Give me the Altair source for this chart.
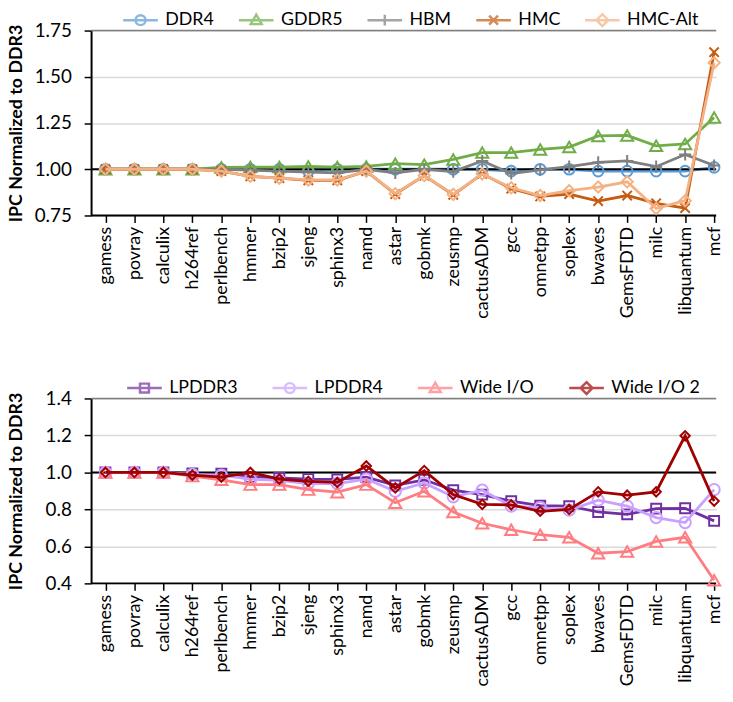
import altair as alt
import pandas as pd

benchmarks = ["gamess", "povray", "calculix", "h264ref", "perlbench", "hmmer", "bzip2",
              "sjeng", "sphinx3", "namd", "astar", "gobmk", "zeusmp", "cactusADM", "gcc",
              "omnetpp", "soplex", "bwaves", "GemsFDTD", "milc", "libquantum", "mcf"]

# ---- top panel series ----
top_names = ["DDR4", "GDDR5", "HBM", "HMC", "HMC-Alt"]
ddr4 = [1.0, 1.0, 1.0, 1.0, 1.0, 1.0, 1.0, 0.99, 1.0, 1.0, 1.0, 1.0, 1.0, 1.0, 0.99, 1.0,
        1.0, 0.99, 0.99, 0.99, 0.99, 1.01]
gddr5 = [1.0, 1.0, 1.0, 1.0, 1.01, 1.012, 1.012, 1.015, 1.012, 1.015, 1.03, 1.025, 1.053,
         1.09, 1.09, 1.107, 1.12, 1.18, 1.183, 1.127, 1.137, 1.28]
hbm = [1.0, 1.0, 1.0, 1.0, 1.0, 0.995, 0.99, 0.985, 0.98, 1.0, 0.98, 1.0, 0.987, 1.045,
       0.977, 0.996, 1.014, 1.037, 1.045, 1.014, 1.08, 1.02]
hmc = [1.0, 1.0, 1.0, 1.0, 0.99, 0.962, 0.952, 0.94, 0.94, 0.99, 0.866, 0.966, 0.862, 0.975,
       0.895, 0.853, 0.866, 0.828, 0.858, 0.816, 0.79, 1.633]
hmc_alt = [1.0, 1.0, 1.0, 1.0, 0.99, 0.962, 0.952, 0.942, 0.942, 0.99, 0.868, 0.966, 0.864,
           0.975, 0.9, 0.858, 0.884, 0.904, 0.932, 0.788, 0.83, 1.576]

# ---- bottom panel series ----
bot_names = ["LPDDR3", "LPDDR4", "Wide I/O", "Wide I/O 2"]
lpddr3 = [1.0, 1.0, 1.0, 0.995, 0.993, 0.975, 0.97, 0.964, 0.962, 0.975, 0.93, 0.96, 0.904,
          0.88, 0.845, 0.82, 0.818, 0.786, 0.773, 0.804, 0.806, 0.738]
lpddr4 = [1.0, 1.0, 1.0, 0.99, 0.985, 0.964, 0.957, 0.94, 0.94, 0.964, 0.898, 0.943, 0.868,
          0.904, 0.818, 0.81, 0.796, 0.85, 0.818, 0.756, 0.729, 0.907]
wide_io = [1.0, 1.0, 1.0, 0.98, 0.96, 0.934, 0.934, 0.907, 0.893, 0.934, 0.836, 0.898, 0.786,
           0.725, 0.69, 0.663, 0.649, 0.563, 0.572, 0.627, 0.649, 0.417]
wide_io2 = [1.0, 1.0, 1.0, 0.985, 0.975, 1.0, 0.964, 0.952, 0.946, 1.035, 0.916, 1.01, 0.88,
            0.827, 0.825, 0.79, 0.8, 0.895, 0.877, 0.895, 1.198, 0.845]

baseline = 1.0  # DDR3
top_ticks = [0.75, 1.0, 1.25, 1.5, 1.75]
bot_ticks = [0.4, 0.6, 0.8, 1.0, 1.2, 1.4]

top_colors = ["#5B9BD5", "#70AD47", "#7F7F7F", "#C55A11", "#F4B183"]
bot_colors = ["#7030A0", "#C9A0FF", "#FF7C80", "#A00000"]

PLUS = "M-1,0L1,0M0,-1L0,1"
XMARK = "M-1,-1L1,1M-1,1L1,-1"
top_shapes = ["circle", "triangle-up", PLUS, XMARK, "diamond"]
top_sizes = [115, 150, 150, 90, 130]
bot_shapes = ["square", "circle", "triangle-up", "diamond"]
bot_sizes = [100, 130, 150, 90]

LEG = {
    "circle": "M-1.75,0L1.75,0M-0.5,0A0.5,0.5 0 1,0 0.5,0A0.5,0.5 0 1,0 -0.5,0",
    "triangle": "M-1.75,0L1.75,0M0,-0.55L0.55,0.4L-0.55,0.4Z",
    "plus": "M-1.75,0L1.75,0M0,-0.55L0,0.55",
    "x": "M-1.75,0L1.75,0M-0.45,-0.45L0.45,0.45M-0.45,0.45L0.45,-0.45",
    "diamond": "M-1.75,0L1.75,0M0,-0.6L0.6,0L0,0.6L-0.6,0Z",
    "square": "M-1.75,0L1.75,0M-0.45,-0.45H0.45V0.45H-0.45Z",
}
top_leg = [LEG["circle"], LEG["triangle"], LEG["plus"], LEG["x"], LEG["diamond"]]
bot_leg = [LEG["square"], LEG["circle"], LEG["triangle"], LEG["diamond"]]

FONT = "Lato"
W, H = 632, 187
# category slot geometry: first point 14.5px in, last point at 630px
STEP = (630 - 14.5) / (len(benchmarks) - 1)
X_DOMAIN = [-14.5 / STEP, len(benchmarks) - 1 + (W - 630) / STEP]
LABEL_EXPR = "[" + ",".join("'" + b + "'" for b in benchmarks) + "][datum.value]"


def panel(names, series, colors, shapes, sizes, leg_paths, ticks, fmt, leg_x, col_pad):
    rows = []
    for name, vals in zip(names, series):
        for i, (b, v) in enumerate(zip(benchmarks, vals)):
            rows.append({"bench": b, "series": name, "value": v, "idx": i})
    df = pd.DataFrame(rows)

    x = alt.X("idx:Q",
              scale=alt.Scale(domain=X_DOMAIN, nice=False, zero=False),
              axis=alt.Axis(title=None, values=list(range(len(benchmarks))),
                            labelExpr=LABEL_EXPR, labelAngle=270, labelFont=FONT,
                            labelFontSize=18, labelColor="black", labelPadding=4,
                            labelFlush=False, tickSize=7, tickColor="black",
                            tickWidth=1.5, domain=False, grid=False, labelOverlap=False,
                            labelBound=False))
    y = alt.Y("value:Q", scale=alt.Scale(domain=[ticks[0], ticks[-1]], nice=False, zero=False),
              axis=alt.Axis(values=ticks, format=fmt, title="IPC Normalized to DDR3",
                            titleFont=FONT, titleFontSize=18, titleFontWeight="bold",
                            titleColor="black", titlePadding=2, labelFont=FONT,
                            labelFontSize=19, labelColor="black", labelPadding=13,
                            tickSize=7, tickColor="black", tickWidth=1.5,
                            domainColor="black", domainWidth=2, grid=True,
                            gridColor="#D9D9D9", gridWidth=1.5, labelOverlap=False,
                            minExtent=64, maxExtent=64))

    base = alt.Chart(df)
    layers = []
    edge = pd.DataFrame({"value": [ticks[-1]]})
    bottom = pd.DataFrame({"value": [ticks[0]]})
    ref = pd.DataFrame({"value": [baseline]})
    layers.append(alt.Chart(edge).mark_rule(color="#7F7F7F", strokeWidth=1.5).encode(y=y))
    layers.append(alt.Chart(bottom).mark_rule(color="black", strokeWidth=2).encode(y=y))

    for name, c, s, sz in zip(names, colors, shapes, sizes):
        sub = base.transform_filter(alt.datum.series == name)
        layers.append(sub.mark_line(color=c, strokeWidth=2.8).encode(
            x=x, y=y, order=alt.Order("idx:Q")))
        if name == names[0]:
            layers.append(alt.Chart(ref).mark_rule(color="black", strokeWidth=2).encode(y=y))
        layers.append(sub.mark_point(shape=s, size=sz, filled=False, color=c,
                                     strokeWidth=2, opacity=1).encode(x=x, y=y))

    leg = alt.Legend(title=None, orient="none", legendX=leg_x, legendY=-22,
                     direction="horizontal", columns=len(names), gridAlign="none",
                     symbolSize=400, symbolStrokeWidth=2.5, labelFont=FONT,
                     labelFontSize=18, labelColor="black", labelOffset=13.5,
                     columnPadding=col_pad, symbolFillColor="transparent", labelLimit=200)
    legend_layer = base.transform_filter("false").mark_point(filled=False, strokeWidth=2.5).encode(
        x=x, y=y,
        color=alt.Color("series:N", scale=alt.Scale(domain=names, range=colors), legend=leg),
        shape=alt.Shape("series:N", scale=alt.Scale(domain=names, range=leg_paths), legend=leg),
    )
    layers.append(legend_layer)
    return alt.layer(*layers).properties(width=W, height=H)


top = panel(top_names, [ddr4, gddr5, hbm, hmc, hmc_alt], top_colors, top_shapes, top_sizes,
            top_leg, top_ticks, ".2f", 38.5, 20)
bot = panel(bot_names, [lpddr3, lpddr4, wide_io, wide_io2], bot_colors, bot_shapes, bot_sizes,
            bot_leg, bot_ticks, ".1f", 42.5, 30)

chart = (alt.vconcat(top, bot, spacing=59,
                     padding={"left": 0, "top": -3, "right": 0, "bottom": 0},
                     background="white")
         .resolve_scale(color="independent", shape="independent")
         .resolve_legend(color="independent", shape="independent")
         .configure_view(stroke=None))

chart.save("out.html", embed_options={"renderer": "svg", "actions": False})
